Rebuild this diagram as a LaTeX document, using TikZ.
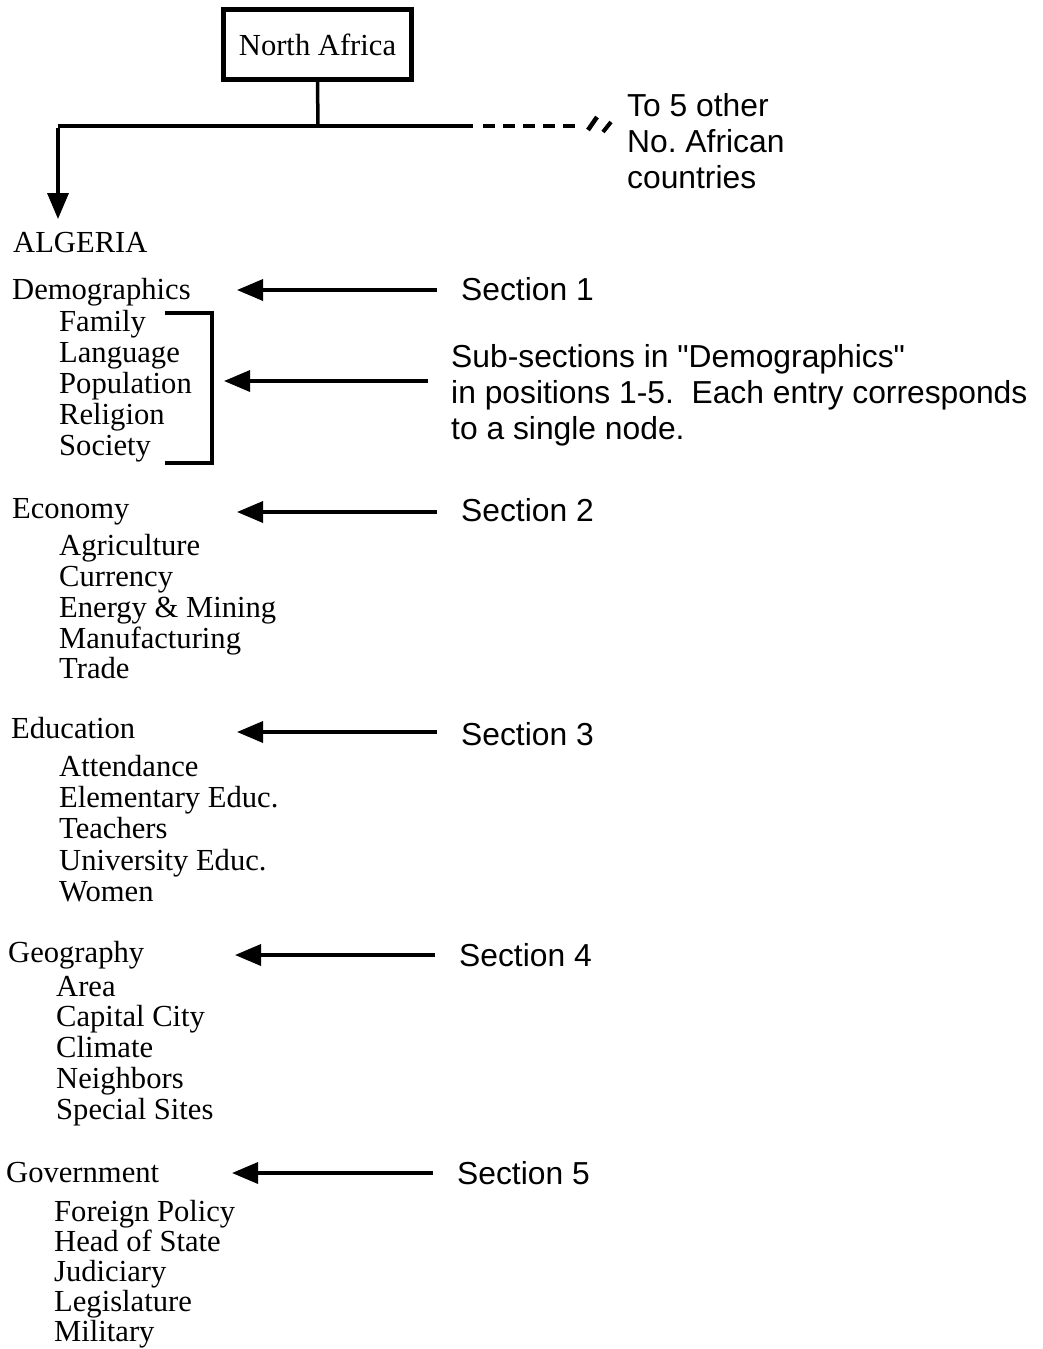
\documentclass[tikz,border=0pt]{standalone}
\usepackage{fontspec}
\setmainfont{Liberation Serif}
\newfontfamily\labelsans{Liberation Sans}
\usetikzlibrary{arrows.meta}

\begin{document}
\frenchspacing
\begin{tikzpicture}[x=1pt,y=-1pt,
  topic/.style={anchor=base west, inner sep=0pt, font=\fontsize{30.6}{31}\selectfont},
  note/.style={anchor=base west, inner sep=0pt, font=\labelsans\fontsize{31.8}{36}\selectfont},
  wire/.style={line width=3.5pt},
  pointer/.style={line width=3.5pt, -{Triangle[length=26pt,width=21pt]}},
  rootbox/.style={draw, line width=5pt, minimum width=188pt, minimum height=70pt,
                  inner sep=0pt, font=\fontsize{30.6}{31}\selectfont}
]
\useasboundingbox (0,0) rectangle (1043,1349);

% root of the hierarchy
\node[rootbox] (root) at (317.5,44.5) {North Africa};
\coordinate (junction) at (318,126);
\coordinate (leftend) at (58,126);
\coordinate (solidend) at (473,126);
\coordinate (dashstart) at (483,126);
\coordinate (dashend) at (577,126);
\coordinate (downtip) at (58,219);

\draw[wire] (root.south) -- (junction);
\draw[wire] (leftend) -- (solidend);
\draw[wire, dash pattern=on 12pt off 8pt] (dashstart) -- (dashend);
\draw[line width=4.5pt] (588,130) -- (597,117);
\draw[line width=4pt] (603,132) -- (611,122);
\draw[pointer] ([yshift=-1.75pt]leftend) -- (downtip);

\node[note] (other1) at (627,116) {To 5 other};
\node[note] (other2) at (627,152) {No. African};
\node[note] (other3) at (627,188) {countries};

% country
\node[topic] (algeria) at (13,252) {ALGERIA};

% section 1
\node[topic] (demo) at (12,299) {Demographics};
\node[topic] (demo1) at (59,331) {Family};
\node[topic] (demo2) at (59,362) {Language};
\node[topic] (demo3) at (59,393) {Population};
\node[topic] (demo4) at (59,424) {Religion};
\node[topic] (demo5) at (59,455) {Society};
\node[note] (sec1) at (461,300) {Section 1};
\coordinate (tip1) at (237,290);
\draw[pointer] (sec1.west |- tip1) ++(-24,0) -- (tip1);

% bracket around the sub-sections
\coordinate (brtop) at (165,313);
\coordinate (brbot) at (165,463);
\coordinate (brtip) at (224,381);
\draw[wire] (brtop) -| (212,463) -- (brbot);
\node[note] (sub1) at (451,367) {Sub-sections in "Demographics"};
\node[note] (sub2) at (451,403) {in positions 1-5.\ \ Each entry corresponds};
\node[note] (sub3) at (451,439) {to a single node.};
\draw[pointer] (sub2.west |- brtip) ++(-23,0) -- (brtip);

% section 2
\node[topic] (econ) at (12,518) {Economy};
\node[topic] (econ1) at (59,555) {Agriculture};
\node[topic] (econ2) at (59,586) {Currency};
\node[topic] (econ3) at (59,617) {Energy \& Mining};
\node[topic] (econ4) at (59,648) {Manufacturing};
\node[topic] (econ5) at (59,678) {Trade};
\node[note] (sec2) at (461,521) {Section 2};
\coordinate (tip2) at (237,512);
\draw[pointer] (sec2.west |- tip2) ++(-24,0) -- (tip2);

% section 3
\node[topic] (educ) at (11,738) {Education};
\node[topic] (educ1) at (59,776) {Attendance};
\node[topic] (educ2) at (59,807) {Elementary Educ.};
\node[topic] (educ3) at (59,838) {Teachers};
\node[topic] (educ4) at (59,870) {University Educ.};
\node[topic] (educ5) at (59,901) {Women};
\node[note] (sec3) at (461,745) {Section 3};
\coordinate (tip3) at (237,732);
\draw[pointer] (sec3.west |- tip3) ++(-24,0) -- (tip3);

% section 4
\node[topic] (geo) at (8,962) {Geography};
\node[topic] (geo1) at (56,996) {Area};
\node[topic] (geo2) at (56,1026) {Capital City};
\node[topic] (geo3) at (56,1057) {Climate};
\node[topic] (geo4) at (56,1088) {Neighbors};
\node[topic] (geo5) at (56,1119) {Special Sites};
\node[note] (sec4) at (459,966) {Section 4};
\coordinate (tip4) at (235,955);
\draw[pointer] (sec4.west |- tip4) ++(-24,0) -- (tip4);

% section 5
\node[topic] (gov) at (6,1182) {Government};
\node[topic] (gov1) at (54,1221) {Foreign Policy};
\node[topic] (gov2) at (54,1251) {Head of State};
\node[topic] (gov3) at (54,1281) {Judiciary};
\node[topic] (gov4) at (54,1311) {Legislature};
\node[topic] (gov5) at (54,1341) {Military};
\node[note] (sec5) at (457,1184) {Section 5};
\coordinate (tip5) at (232,1173);
\draw[pointer] (sec5.west |- tip5) ++(-24,0) -- (tip5);
\end{tikzpicture}
\end{document}
